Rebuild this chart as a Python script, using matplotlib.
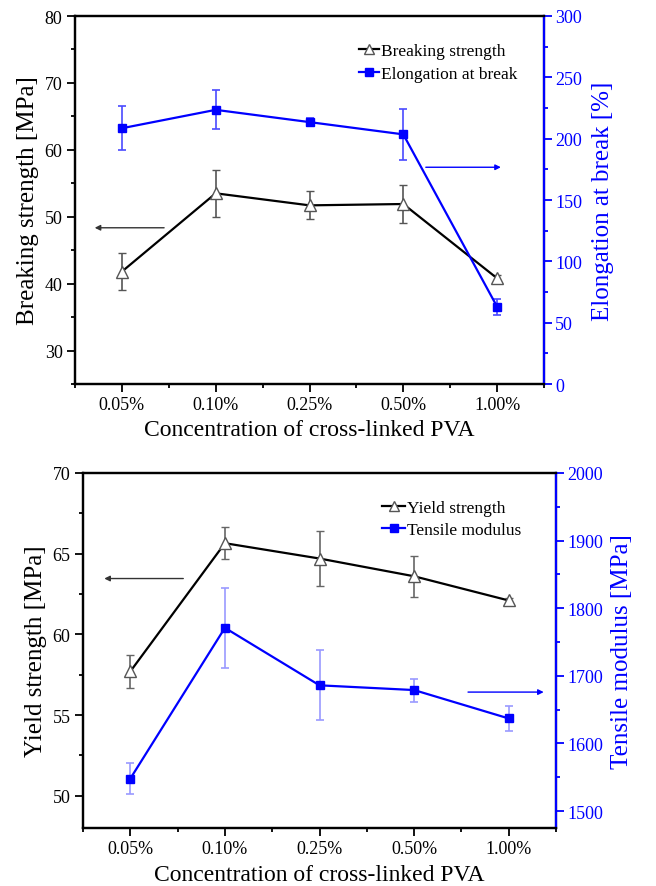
import matplotlib
matplotlib.use("Agg")
import matplotlib.pyplot as plt
from matplotlib.ticker import MultipleLocator, FixedLocator
from matplotlib.lines import Line2D
import numpy as np

plt.rcParams['font.family'] = ['Liberation Serif', 'DejaVu Serif']

categories = ["0.05%", "0.10%", "0.25%", "0.50%", "1.00%"]

breaking_strength = [41.8, 53.5, 51.7, 51.9, 40.8]
breaking_err = [2.8, 3.5, 2.1, 2.9, 0.5]
elongation = [208.5, 223.5, 213.5, 203.5, 63.0]
elongation_err = [18.0, 16.0, 3.5, 21.0, 6.5]

yield_strength = [57.7, 65.65, 64.7, 63.6, 62.1]
yield_err = [1.0, 1.0, 1.7, 1.27, 0.15]
tensile_modulus = [1548, 1771, 1686, 1679, 1637]
tensile_err = [23, 59, 52, 17, 19]

BLUE = '#0000ff'
W, H = 656, 887

fig = plt.figure(figsize=(W / 100, H / 100), dpi=100)

def make_axes(l, r, t, b):
    return fig.add_axes([l / W, 1 - b / H, (r - l) / W, (b - t) / H])

def style(ax, axr, ymaj, ymin, rmaj, rmin):
    x = np.arange(len(categories))
    ax.set_xlim(-0.5, len(categories) - 0.5)
    ax.set_xticks(x)
    ax.set_xticklabels(categories)
    ax.xaxis.set_minor_locator(FixedLocator(np.arange(-0.5, len(categories), 1.0)))
    ax.yaxis.set_major_locator(MultipleLocator(ymaj))
    ax.yaxis.set_minor_locator(MultipleLocator(ymin))
    axr.yaxis.set_major_locator(MultipleLocator(rmaj))
    axr.yaxis.set_minor_locator(MultipleLocator(rmin))
    for a in (ax, axr):
        for s in a.spines.values():
            s.set_linewidth(1.6)
    ax.tick_params(axis='both', which='major', direction='out', length=6, width=1.3,
                   labelsize=13, pad=3, top=False, right=False)
    ax.tick_params(axis='both', which='minor', direction='out', length=3, width=1.3,
                   top=False, right=False)
    axr.tick_params(axis='y', which='major', direction='out', length=6, width=1.3,
                    labelsize=13, pad=2, colors=BLUE)
    axr.tick_params(axis='y', which='minor', direction='out', length=3, width=1.3, colors=BLUE)
    axr.spines['right'].set_color(BLUE)

def legend_handles():
    h1 = Line2D([], [], color='black', lw=1.6, marker='^', ms=7, mfc='white', mec='#555555', mew=1.0)
    h2 = Line2D([], [], color=BLUE, lw=1.6, marker='s', ms=5.5, mfc=BLUE, mec=BLUE)
    return [h1, h2]

x = np.arange(len(categories))

# ---------------- Top chart ----------------
ax1 = make_axes(75, 544, 17, 385)
ax2 = ax1.twinx()

ax1.errorbar(x, breaking_strength, yerr=breaking_err, color='black', lw=1.6,
             marker='^', ms=8, mfc='white', mec='#555555', mew=1.0,
             ecolor='#555555', elinewidth=1.2, capsize=3, capthick=1.2)
ax2.errorbar(x, elongation, yerr=elongation_err, color=BLUE, lw=1.6,
             marker='s', ms=6, mfc=BLUE, mec=BLUE,
             ecolor='#4a4aff', elinewidth=1.2, capsize=3, capthick=1.2)
ax1.set_ylim(25, 80)
ax2.set_ylim(0, 300)
style(ax1, ax2, 10, 5, 50, 25)
ax1.set_ylabel('Breaking strength [MPa]', fontsize=18, labelpad=4)
ax2.set_ylabel('Elongation at break [%]', fontsize=18, color=BLUE, labelpad=7)
ax1.set_xlabel('Concentration of cross-linked PVA', fontsize=17, labelpad=4)

ax1.annotate('', xy=(-0.29, 48.35), xytext=(0.45, 48.35),
             arrowprops=dict(arrowstyle='-|>', color='#333333', lw=1.0,
                             mutation_scale=8, shrinkA=0, shrinkB=0))
ax2.annotate('', xy=(4.04, 176.7), xytext=(3.24, 176.7),
             arrowprops=dict(arrowstyle='-|>', color=BLUE, lw=1.0,
                             mutation_scale=8, shrinkA=0, shrinkB=0))

ax1.legend(legend_handles(), ['Breaking strength', 'Elongation at break'],
           loc='upper left', bbox_to_anchor=(0.606, 0.926), frameon=False,
           fontsize=12.5, handlelength=1.15, handletextpad=0.1,
           labelspacing=0.35, borderpad=0, borderaxespad=0)

# ---------------- Bottom chart ----------------
ax3 = make_axes(83, 556, 474, 829)
ax4 = ax3.twinx()

ax3.errorbar(x, yield_strength, yerr=yield_err, color='black', lw=1.6,
             marker='^', ms=8, mfc='white', mec='#555555', mew=1.0,
             ecolor='#666666', elinewidth=1.2, capsize=3, capthick=1.2)
ax4.errorbar(x, tensile_modulus, yerr=tensile_err, color=BLUE, lw=1.6,
             marker='s', ms=6, mfc=BLUE, mec=BLUE,
             ecolor='#9a9aff', elinewidth=1.2, capsize=3, capthick=1.2)
ax3.set_ylim(48, 70)
ax4.set_ylim(1475, 2000)
style(ax3, ax4, 5, 2.5, 100, 50)
ax3.set_ylabel('Yield strength [MPa]', fontsize=18, labelpad=4)
ax4.set_ylabel('Tensile modulus [MPa]', fontsize=18, color=BLUE, labelpad=6)
ax3.set_xlabel('Concentration of cross-linked PVA', fontsize=17, labelpad=5)

ax3.annotate('', xy=(-0.275, 63.46), xytext=(0.56, 63.46),
             arrowprops=dict(arrowstyle='-|>', color='#333333', lw=1.0,
                             mutation_scale=8, shrinkA=0, shrinkB=0))
ax4.annotate('', xy=(4.37, 1676), xytext=(3.57, 1676),
             arrowprops=dict(arrowstyle='-|>', color=BLUE, lw=1.0,
                             mutation_scale=8, shrinkA=0, shrinkB=0))

ax3.legend(legend_handles(), ['Yield strength', 'Tensile modulus'],
           loc='upper left', bbox_to_anchor=(0.633, 0.925), frameon=False,
           fontsize=12.5, handlelength=1.3, handletextpad=0.1,
           labelspacing=0.35, borderpad=0, borderaxespad=0)

fig.savefig('out.png', dpi=100)
